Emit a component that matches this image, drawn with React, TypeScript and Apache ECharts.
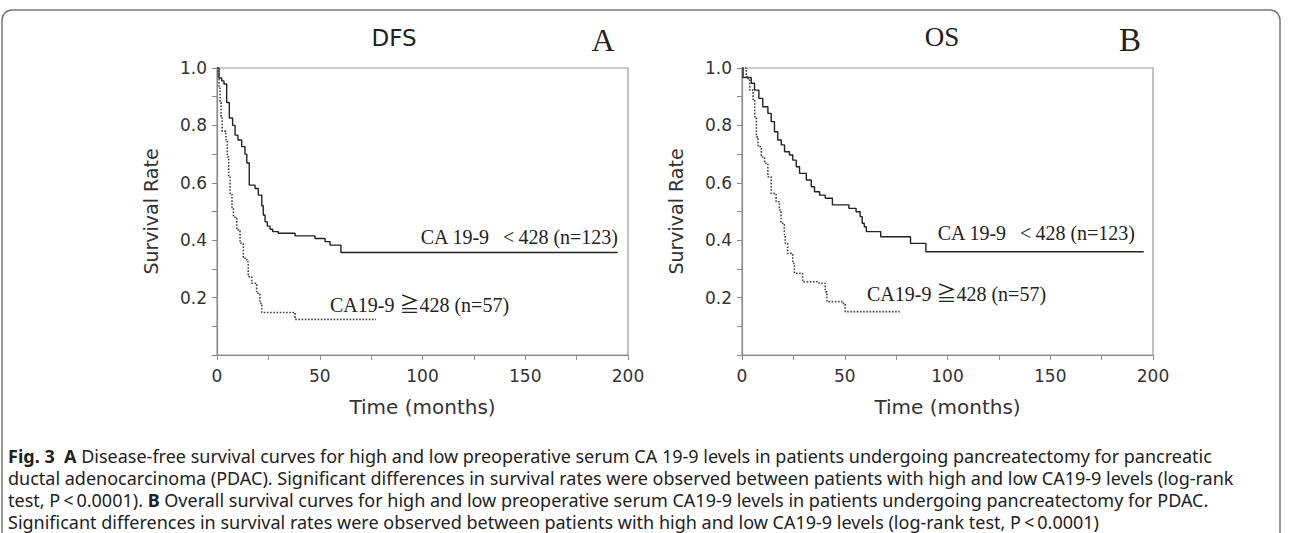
import React, { useEffect, useRef } from "react";
import * as echarts from "echarts";

// ---- Panel A (DFS) ----
const dfsLowTime = [0, 1.0, 2.3, 3.4, 4.7, 6.0, 7.6, 8.8, 10.2, 12.0, 13.6, 14.5, 15.7, 18.5, 20.1, 21.8, 22.5, 23.4, 24.5, 25.8, 27.1, 29.8, 38, 47.7, 52.6, 55, 60.3, 195];
const dfsLowSurv = [1.0, 0.965, 0.955, 0.944, 0.88, 0.826, 0.8, 0.766, 0.749, 0.726, 0.7, 0.669, 0.592, 0.58, 0.557, 0.52, 0.488, 0.464, 0.449, 0.438, 0.43, 0.424, 0.415, 0.406, 0.395, 0.383, 0.357, 0.357];
const dfsHighTime = [0, 0.5, 1.0, 1.5, 2.0, 2.5, 4.3, 5.0, 5.7, 6.4, 7.3, 8.0, 9.6, 11.2, 12.8, 14.5, 15.2, 16.9, 19.3, 20.9, 21.8, 38, 77.4];
const dfsHighSurv = [1.0, 0.97, 0.93, 0.88, 0.83, 0.78, 0.75, 0.69, 0.62, 0.56, 0.51, 0.48, 0.436, 0.39, 0.337, 0.325, 0.273, 0.25, 0.215, 0.18, 0.148, 0.124, 0.124];

// ---- Panel B (OS) ----
const osLowTime = [0, 0.5, 4.5, 6.1, 8.2, 10.1, 12.6, 14.2, 15.8, 17.4, 19.1, 20.7, 23.1, 24.7, 26.4, 28.0, 31.3, 33.7, 35.3, 37.8, 40.5, 44, 52, 55.5, 57.5, 58.5, 59.5, 60.5, 67.5, 82, 89.5, 195.5];
const osLowSurv = [1.0, 0.967, 0.947, 0.923, 0.894, 0.865, 0.842, 0.813, 0.778, 0.749, 0.732, 0.708, 0.697, 0.679, 0.656, 0.633, 0.61, 0.586, 0.569, 0.557, 0.546, 0.523, 0.511, 0.499, 0.482, 0.459, 0.447, 0.43, 0.412, 0.389, 0.36, 0.36];
const osHighTime = [0, 2.1, 3.0, 3.8, 5.4, 6.2, 7.0, 7.8, 9.4, 11, 12.6, 14.2, 16.6, 18.2, 19, 20.6, 21, 22.2, 24.7, 25.5, 29.5, 37.5, 40.5, 41.3, 48.6, 50.2, 76.8];
const osHighSurv = [1.0, 0.97, 0.958, 0.923, 0.888, 0.83, 0.76, 0.726, 0.69, 0.668, 0.621, 0.563, 0.534, 0.505, 0.459, 0.42, 0.389, 0.354, 0.319, 0.285, 0.255, 0.25, 0.22, 0.186, 0.18, 0.151, 0.151];

const xTicks = [0, 50, 100, 150, 200];
const yTickLabels = [0.2, 0.4, 0.6, 0.8, 1.0];
const panelTitles = ["DFS", "OS"];
const panelLetters = ["A", "B"];
const lowLabel = "CA 19-9\u2002\u2009<\u2009428 (n=123)";
const highLabel = "CA19-9 \u2267428 (n=57)";

const captionLines = [
  "{b|Fig. 3}  {b|A} Disease-free survival curves for high and low preoperative serum CA 19-9 levels in patients undergoing pancreatectomy for pancreatic",
  "ductal adenocarcinoma (PDAC). Significant differences in survival rates were observed between patients with high and low CA19-9 levels (log-rank",
  "test, P\u2009<\u20090.0001). {b|B} Overall survival curves for high and low preoperative serum CA19-9 levels in patients undergoing pancreatectomy for PDAC.",
  "Significant differences in survival rates were observed between patients with high and low CA19-9 levels (log-rank test, P\u2009<\u20090.0001)",
];

const zip = (t: number[], s: number[]) => t.map((v, i) => [v, s[i]]);

const SANS = "'DejaVu Sans', Verdana, sans-serif";
const SERIF = "'Liberation Serif', 'Times New Roman', 'Noto Sans CJK JP', serif";
const CAP = "'Noto Sans', 'Open Sans', sans-serif";

export default function App() {
  const ref = useRef<HTMLDivElement>(null);
  useEffect(() => {
    document.body.style.margin = "0";
    if (!ref.current) return;
    const chart = echarts.init(ref.current, undefined, { renderer: "svg" });
    const grids = [
      { left: 217, top: 68, width: 411, height: 287 },
      { left: 742, top: 68, width: 411, height: 287 },
    ];
    const axisColor = "#8a8a8a";
    const xAxes = grids.map((_, i) => ({
      type: "value",
      gridIndex: i,
      min: 0,
      max: 200,
      interval: 25,
      name: "Time (months)",
      nameLocation: "middle",
      nameGap: 42,
      nameTextStyle: { fontSize: 20, fontFamily: SANS, color: "#333" },
      axisLine: { show: true, lineStyle: { color: axisColor, width: 1.2 } },
      axisTick: { show: true, length: 5, lineStyle: { color: axisColor } },
      splitLine: { show: false },
      axisLabel: {
        margin: 12,
        fontSize: 17,
        fontFamily: SANS,
        color: "#333",
        formatter: (v: number) => (xTicks.includes(v) ? String(v) : ""),
      },
    }));
    const yAxes = grids.map((_, i) => ({
      type: "value",
      gridIndex: i,
      min: 0,
      max: 1,
      interval: 0.1,
      name: "Survival Rate",
      nameLocation: "middle",
      nameGap: 57,
      nameRotate: 90,
      nameTextStyle: { fontSize: 19, fontFamily: SANS, color: "#333" },
      axisLine: { show: true, lineStyle: { color: axisColor, width: 1.2 } },
      axisTick: { show: true, length: 5, lineStyle: { color: axisColor } },
      splitLine: { show: false },
      axisLabel: {
        margin: 10,
        fontSize: 17,
        fontFamily: SANS,
        color: "#333",
        formatter: (v: number) => {
          const r = Math.round(v * 10) / 10;
          return yTickLabels.some((t) => Math.abs(t - r) < 1e-6) ? r.toFixed(1) : "";
        },
      },
    }));
    const solid = { color: "#222", width: 1.4, type: "solid" };
    const dotted = { color: "#444", width: 1.6, type: [1.6, 1.6] };
    const mk = (data: number[][], idx: number, ls: any) => ({
      type: "line",
      xAxisIndex: idx,
      yAxisIndex: idx,
      data,
      step: "end",
      showSymbol: false,
      symbol: "none",
      lineStyle: ls,
      silent: true,
    });
    const txt = (text: string, x: number, y: number, size: number, family: string, align = "center", extra: any = {}) => ({
      type: "text",
      x,
      y,
      style: { text, fontSize: size, fontFamily: family, fill: "#222", align, verticalAlign: "middle", ...extra },
      silent: true,
    });
    const graphic: any[] = [
      {
        type: "rect",
        shape: { x: 2, y: 10, width: 1278, height: 620, r: 10 },
        style: { fill: "none", stroke: "#777", lineWidth: 1.5 },
        silent: true,
      },
      txt(panelTitles[0], 394, 38, 23, SANS),
      txt(panelLetters[0], 603, 40, 32, SERIF),
      txt(panelTitles[1], 942, 37, 27, SERIF),
      txt(panelLetters[1], 1130, 40, 33, SERIF),
      txt(lowLabel, 618, 237, 20, SERIF, "right"),
      txt(highLabel, 330, 305, 20, SERIF, "left"),
      txt(lowLabel, 1135, 233, 20, SERIF, "right"),
      txt(highLabel, 867, 294, 20, SERIF, "left"),
    ];
    captionLines.forEach((line, i) => {
      graphic.push({
        type: "text",
        x: 8,
        y: 456 + i * 22,
        style: {
          text: line,
          fontSize: 18,
          fontFamily: CAP,
          fill: "#222",
          align: "left",
          verticalAlign: "middle",
          rich: { b: { fontSize: 18, fontFamily: CAP, fontWeight: "bold", fill: "#222" } },
        },
        silent: true,
      });
    });
    chart.setOption({
      animation: false,
      backgroundColor: "#fff",
      grid: grids.map((g) => ({ ...g, show: true, borderColor: "#999", borderWidth: 1.2, backgroundColor: "transparent" })),
      xAxis: xAxes,
      yAxis: yAxes,
      series: [
        mk(zip(dfsLowTime, dfsLowSurv), 0, solid),
        mk(zip(dfsHighTime, dfsHighSurv), 0, dotted),
        mk(zip(osLowTime, osLowSurv), 1, solid),
        mk(zip(osHighTime, osHighSurv), 1, dotted),
      ],
      graphic,
    });
    return () => chart.dispose();
  }, []);
  return <div ref={ref} style={{ width: 1290, height: 533 }} />;
}
